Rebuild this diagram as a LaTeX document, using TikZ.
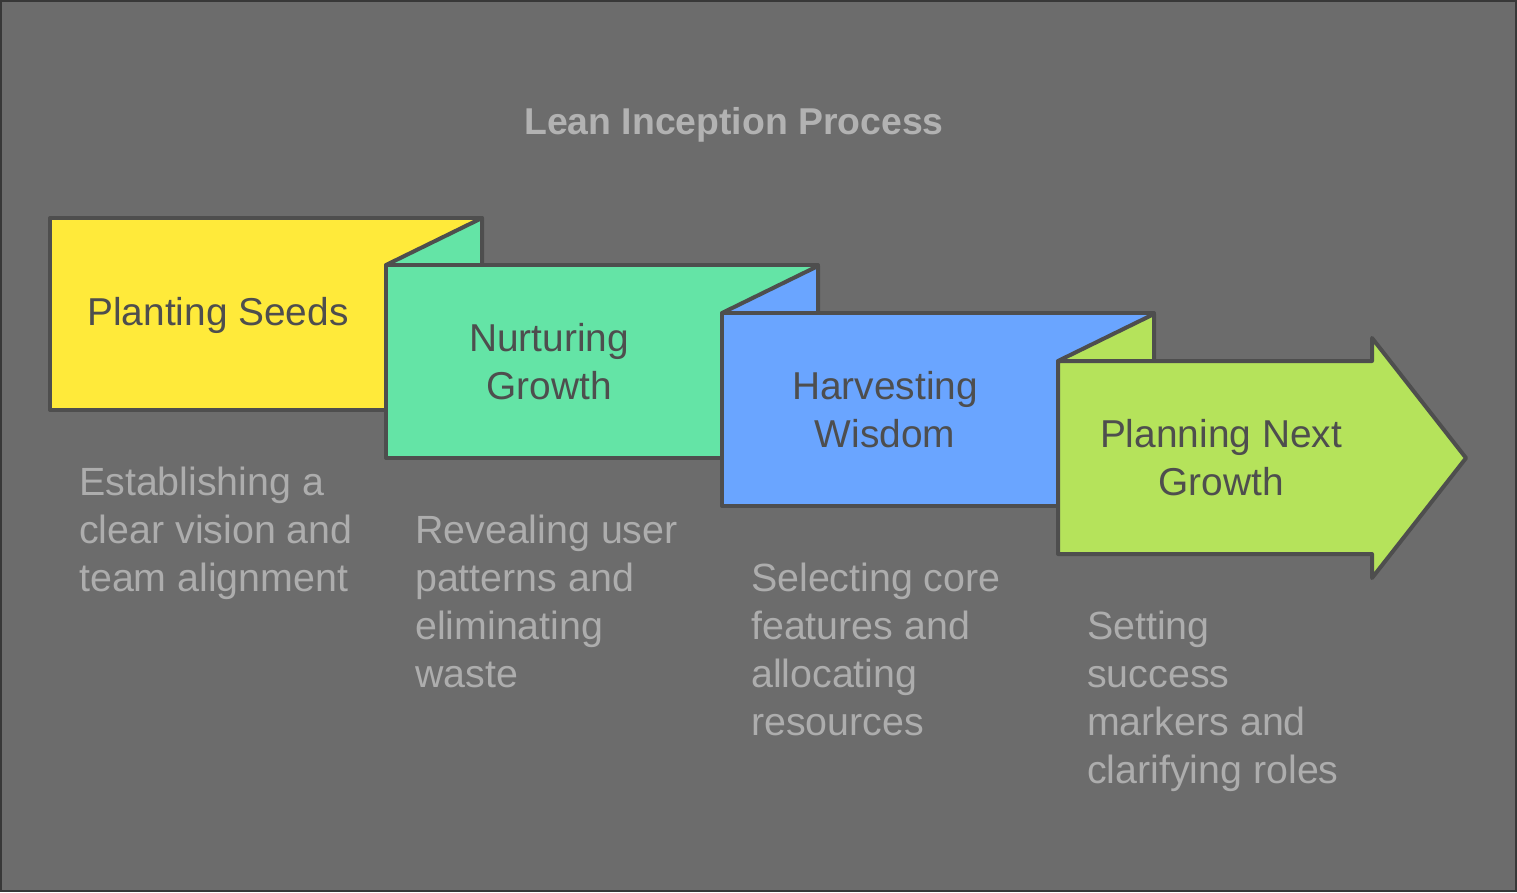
\documentclass[tikz,border=0pt]{standalone}
\usepackage{fontspec}
\setmainfont{Liberation Sans}
\definecolor{bgc}{HTML}{6C6C6C}
\definecolor{framec}{HTML}{383838}
\definecolor{edgec}{HTML}{4E4E4E}
\definecolor{yel}{HTML}{FFEA3A}
\definecolor{grn}{HTML}{64E4A6}
\definecolor{blu}{HTML}{6AA5FF}
\definecolor{lim}{HTML}{B5E35B}
\definecolor{desc}{HTML}{ADADAD}
\definecolor{ttl}{HTML}{B2B2B2}
\tikzset{
  shp/.style={draw=edgec, line width=4bp, line join=round},
  lbl/.style={text=edgec, align=center, inner sep=0pt, font=\fontsize{39}{48}\selectfont},
  dsc/.style={text=desc, align=left, anchor=base west, inner sep=0pt, font=\fontsize{39.5}{48}\selectfont},
}
\begin{document}
\begin{tikzpicture}[x=1bp,y=-1bp]
\useasboundingbox (0,0) rectangle (1517,892);
\fill[bgc] (0,0) rectangle (1517,892);
\draw[framec, line width=2bp] (1,1) rectangle (1516,891);
% title
\node[text=ttl, font=\fontsize{37.5}{44}\selectfont\bfseries] (title) at (734,125) {Lean Inception Process};
% box 1
\draw[shp, fill=yel] (50,218) rectangle (482,410);
% box 2
\draw[shp, fill=grn] (386,265) -- (482,218) -- (482,265) -- cycle;
\draw[shp, fill=grn] (386,265) rectangle (818,458);
% box 3
\draw[shp, fill=blu] (722,313) -- (818,266) -- (818,313) -- cycle;
\draw[shp, fill=blu] (722,313) rectangle (1154,506);
% box 4 arrow
\draw[shp, fill=lim] (1058,361) -- (1154,314) -- (1154,361) -- cycle;
\draw[shp, fill=lim] (1058,361) -- (1372,361) -- (1372,338) -- (1466,458) -- (1372,578) -- (1372,554) -- (1058,554) -- cycle;
% labels
\node[lbl] (s1) at (218,315) {Planting Seeds};
\node[lbl] (s2) at (549,362) {Nurturing\\Growth};
\node[lbl] (s3) at (885,410) {Harvesting\\Wisdom};
\node[lbl] (s4) at (1221,458) {Planning Next\\Growth};
% descriptions (anchor at last line baseline)
\node[dsc] (d1) at (79,591) {Establishing a\\clear vision and\\team alignment};
\node[dsc] (d2) at (415,687) {Revealing user\\patterns and\\eliminating\\waste};
\node[dsc] (d3) at (751,735) {Selecting core\\features and\\allocating\\resources};
\node[dsc] (d4) at (1087,783) {Setting\\success\\markers and\\clarifying roles};
\end{tikzpicture}
\end{document}
